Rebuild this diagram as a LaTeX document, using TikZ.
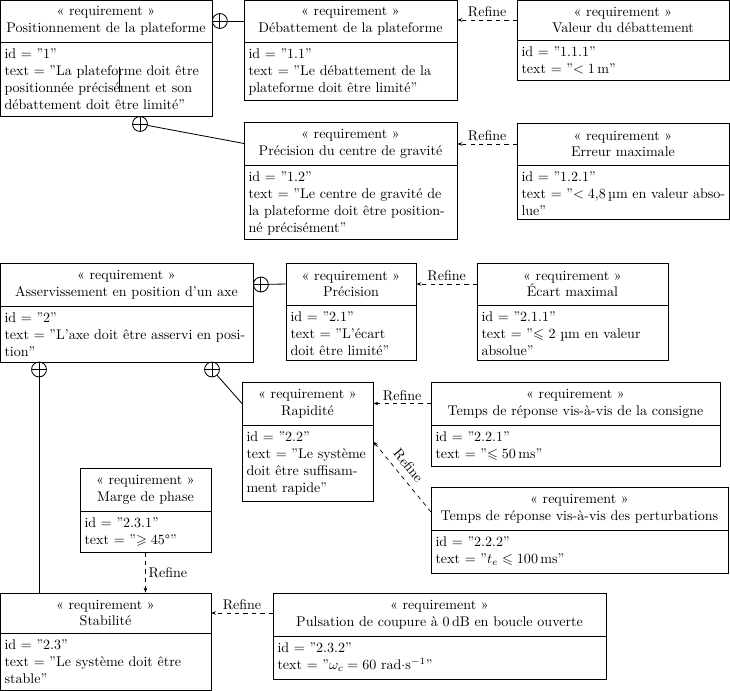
\documentclass[tikz,border=0pt]{standalone}
\usepackage{amssymb}
\usetikzlibrary{fit,arrows.meta}

% One requirement block: name, x1, y1, x2, y2, y of the divider, title, body
\newcommand\reqblock[8]{%
  \node[reqframe, fit={(#2,#3) (#4,#5)}] (#1) {};
  \draw[reqline] (#2,#6) -- (#4,#6);
  \coordinate (#1-tw) at (#2,{(#3+#6)/2});
  \coordinate (#1-te) at (#4,{(#3+#6)/2});
  \node[reqtitle] (#1-title) at ({(#2+#4)/2},{(#3+#6)/2}) {«~requirement~»\\#7};
  \node[reqbody] (#1-body) at (#2,#6) {#8};
}

\begin{document}
\begin{tikzpicture}[x=0.711pt,y=-0.711pt,
  reqframe/.style={draw, line width=0.6pt, inner sep=0pt},
  reqline/.style={line width=0.6pt},
  reqtitle/.style={align=center, inner sep=0pt},
  reqbody/.style={anchor=north west, align=left, inner xsep=3pt, inner ysep=4.6pt},
  oplus/.style={circle, draw, line width=0.6pt, minimum size=10.6pt, inner sep=0pt,
    path picture={\draw[line width=0.6pt]
      (path picture bounding box.north) -- (path picture bounding box.south)
      (path picture bounding box.west) -- (path picture bounding box.east);}},
  contain/.style={line width=0.6pt},
  refine/.style={dashed, line width=0.5pt, -{Stealth[length=3.5pt,width=2.6pt]}},
  reflabel/.style={inner sep=2pt}
]
\useasboundingbox (0,0) rectangle (730,691);

% ---- requirement 1 and its children ----
\reqblock{r1}{0}{0}{212}{116}{42}{Positionnement de la plateforme}
  {id = ”1”\\text = ”La plateforme doit être\\positionnée précisément et son\\débattement doit être limité”}
\reqblock{r11}{244}{0}{457}{100}{42}{Débattement de la plateforme}
  {id = ”1.1”\\text = ”Le débattement de la\\plateforme doit être limité”}
\reqblock{r111}{517}{0}{729}{80}{40}{Valeur du débattement}
  {id = ”1.1.1”\\text = ”$<1$\,m”}
\reqblock{r12}{244}{122}{457}{239}{165}{Précision du centre de gravité}
  {id = ”1.2”\\text = ”Le centre de gravité de\\la plateforme doit être position-\\né précisément”}
\reqblock{r121}{517}{123}{729}{219}{165}{Erreur maximale}
  {id = ”1.2.1”\\text = ”$<4{,}8$\,µm en valeur abso-\\lue”}
\draw[line width=0.6pt] (119.5,67) -- (119.5,92);

% ---- requirement 2 and its children ----
\reqblock{r2}{0}{263}{253}{362}{306}{Asservissement en position d’un axe}
  {id = ”2”\\text = ”L’axe doit être asservi en posi-\\tion”}
\reqblock{r21}{286}{263}{416}{360}{305}{Précision}
  {id = ”2.1”\\text = ”L’écart\\doit être limité”}
\reqblock{r211}{477}{263}{668}{360}{305}{Écart maximal}
  {id = ”2.1.1”\\text = ”$\leqslant$ 2 µm en valeur\\absolue”}
\reqblock{r22}{242}{382}{373}{501}{425}{Rapidité}
  {id = ”2.2”\\text = ”Le système\\doit être suffisam-\\ment rapide”}
\reqblock{r221}{431}{382}{720}{466}{425}{Temps de réponse vis-à-vis de la consigne}
  {id = ”2.2.1”\\text = ”$\leqslant 50$\,ms”}
\reqblock{r222}{431}{487}{728}{573}{530}{Temps de réponse vis-à-vis des perturbations}
  {id = ”2.2.2”\\text = ”$t_e \leqslant 100$\,ms”}
\reqblock{r231}{80}{468}{211}{552}{511}{Marge de phase}
  {id = ”2.3.1”\\text = ”$\geqslant 45$°”}
\reqblock{r23}{0}{593}{211}{690}{633}{Stabilité}
  {id = ”2.3”\\text = ”Le système doit être\\stable”}
\reqblock{r232}{273}{593}{606}{679}{636}{Pulsation de coupure à 0\,dB en boucle ouverte}
  {id = ”2.3.2”\\text = ”$\omega_c = 60$ rad$\cdot$s$^{-1}$”}

% ---- containment links ----
\node[oplus, anchor=west] (c1a) at (r1-te) {};
\draw[contain] (c1a) -- (r11-tw);
\node[oplus] (c1b) at (140,124) {};
\draw[contain] (c1b) -- (r12-tw);
\node[oplus, anchor=west] (c2a) at (r2-te) {};
\draw[contain] (c2a) -- (r21-tw);
\node[oplus] (c2b) at (212,369.5) {};
\draw[contain] (c2b) -- (r22-tw);
\node[oplus] (c2c) at (39,369.5) {};
\draw[contain] (c2c) -- (c2c |- r23.north);

% ---- refine links ----
\draw[refine] (r111-tw) -- node[reflabel, above] {Refine} (r111-tw -| r11.east);
\draw[refine] (r121-tw) -- node[reflabel, above] {Refine} (r121-tw -| r12.east);
\draw[refine] (r211-tw) -- node[reflabel, above] {Refine} (r211-tw -| r21.east);
\draw[refine] (r221-tw) -- node[reflabel, above] {Refine} (r221-tw -| r22.east);
\draw[refine] ([yshift=-2.5pt]r222-tw) -- node[reflabel, sloped, above=2.5pt, pos=0.55] {Refine} ([yshift=-42.7pt]r22.north east);
\draw[refine] (r231.south) -- node[reflabel, right] {Refine} (r231.south |- r23.north);
\draw[refine] (r232-tw |- r23-te) -- node[reflabel, above] {Refine} (r23-te);
\end{tikzpicture}
\end{document}
